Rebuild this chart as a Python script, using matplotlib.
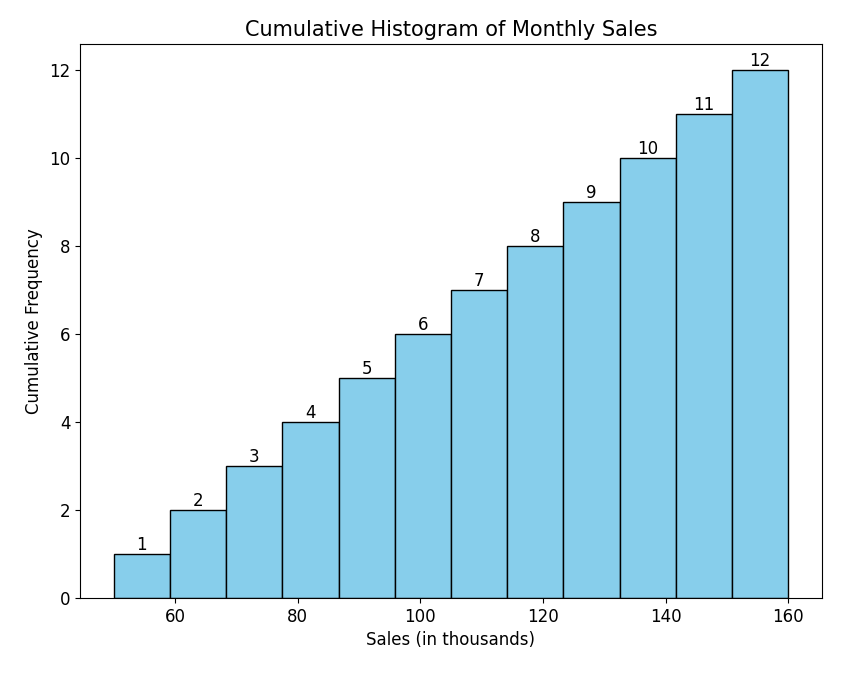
import matplotlib
matplotlib.use("Agg")
import matplotlib.pyplot as plt

sales = [50, 60, 70, 80, 90, 100, 110, 120, 130, 140, 150, 160]
n_bins = 12

fig = plt.figure(figsize=(8.41, 6.76), dpi=100)
ax = fig.add_axes([80/841, 1-598/676, (822-80)/841, (598-44)/676])
counts, bins, patches = ax.hist(sales, bins=n_bins, cumulative=True,
                                color='skyblue', edgecolor='black')
for c, l, r in zip(counts, bins[:-1], bins[1:]):
    ax.text((l+r)/2, c, str(int(c)), ha='center', va='bottom', fontsize=12)
ax.set_title('Cumulative Histogram of Monthly Sales', fontsize=15)
ax.set_xlabel('Sales (in thousands)', fontsize=12)
ax.set_ylabel('Cumulative Frequency', fontsize=12)
ax.tick_params(labelsize=12)
fig.savefig('out.png', dpi=100)
